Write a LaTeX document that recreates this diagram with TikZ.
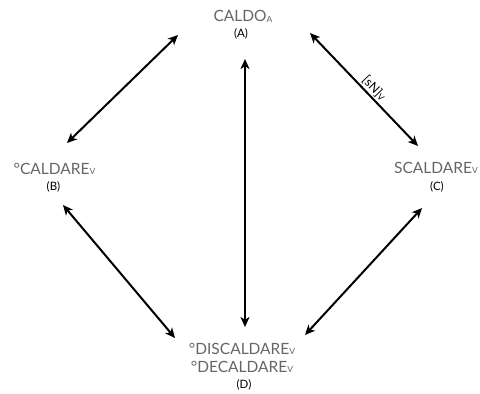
\documentclass[tikz,border=0pt]{standalone}
\usepackage{fontspec}
\setmainfont{Lato}
\usetikzlibrary{arrows.meta}
\definecolor{namegray}{HTML}{666666}
\newcommand\lsub[1]{\raisebox{-0.6pt}{\fontsize{8.5}{9}\selectfont #1}}
\tikzset{
  nm/.style={anchor=base, inner sep=0pt, text=namegray, font=\fontsize{15.5}{17}\selectfont},
  lt/.style={anchor=base, inner sep=0pt, text=black, font=\fontsize{11.5}{13}\selectfont},
  tip/.style={Stealth[length=10pt,width=9pt,inset=2.8pt]},
  rel/.style={line width=2pt, {Stealth[length=10pt,width=9pt,inset=2.8pt]}-{Stealth[length=10pt,width=9pt,inset=2.8pt]}},
}
\begin{document}
\begin{tikzpicture}[x=1pt,y=-1pt]
\useasboundingbox[fill=white] (0,0) rectangle (480,394);
% labels
\node[nm] (Aname) at (243,21.5) {CALDO\lsub{A}};
\node[lt] (Alet) at (241,37) {(A)};
\node[nm] (Bname) at (54.5,174) {°CALDARE\lsub{V}};
\node[lt] (Blet) at (53.5,190) {(B)};
\node[nm] (Cname) at (436,173) {SCALDARE\lsub{V}};
\node[lt] (Clet) at (437,190) {(C)};
\node[nm] (Dname1) at (242,354) {°DISCALDARE\lsub{V}};
\node[nm] (Dname2) at (242,372) {°DECALDARE\lsub{V}};
\node[lt] (Dlet) at (244,388) {(D)};
% arrow end points
\coordinate (AB1) at (178,35);
\coordinate (AB2) at (67,143);
\coordinate (AD1) at (245,59);
\coordinate (AD2) at (245,327);
\coordinate (AC1) at (310,33);
\coordinate (AC2) at (418,146);
\coordinate (BD1) at (63,205);
\coordinate (BD2) at (175,338);
\coordinate (CD1) at (422,208);
\coordinate (CD2) at (305,335);
% arrows
\draw[rel] (AB1) -- (AB2);
\draw[rel] (AD1) -- (AD2);
\draw[rel] (AC1) -- (AC2) node[pos=0.54, sloped, above=1.5pt, inner sep=0pt, text=black, font=\fontsize{12.5}{14}\selectfont] (sNlab) {[sN]\lsub{V}};
\draw[rel] (BD1) -- (BD2);
\draw[rel] (CD1) -- (CD2);
\end{tikzpicture}
\end{document}
